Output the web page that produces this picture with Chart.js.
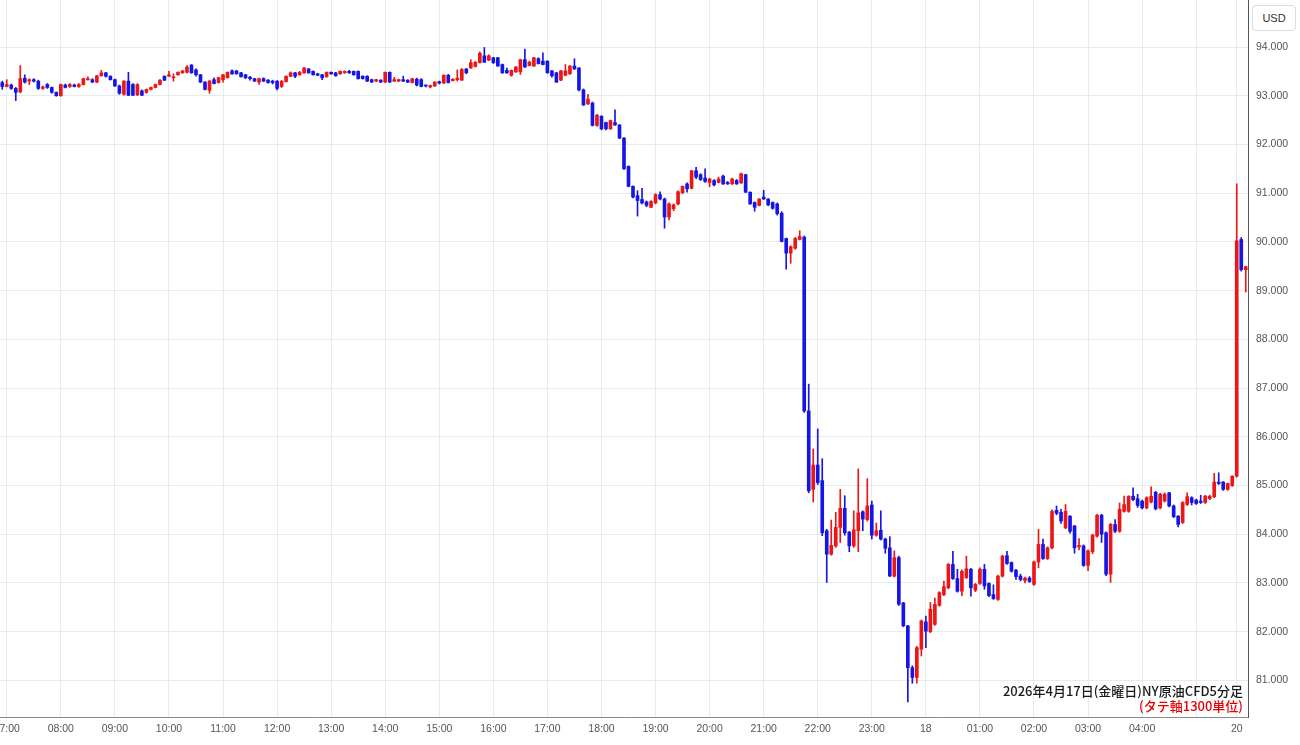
<!DOCTYPE html>
<html lang="ja">
<head>
<meta charset="utf-8">
<title>NY原油CFD 5分足</title>
<script src="https://cdn.jsdelivr.net/npm/chart.js@4.4.1/dist/chart.umd.min.js"></script>
<style>
  body { margin: 0; background: #fff; }
  #wrap { position: relative; width: 1300px; height: 745px; }
  .unit {
    position: absolute; left: 1252px; top: 5px; width: 42px; height: 24px;
    border: 1px solid #dcdcdc; border-radius: 4px; background: #fff;
    font: 11px 'Liberation Sans', sans-serif; color: #333;
    line-height: 24px; text-align: center;
  }
  .note {
    position: absolute; right: 57px; top: 683px; text-align: right;
    font-family: 'Noto Sans CJK JP', sans-serif; font-size: 13px; font-weight: 500;
    line-height: 15px; color: #1a1a1a;
  }
  .note .red { color: #e60000; }
</style>
</head>
<body>
<div id="wrap">
  <canvas id="crude"></canvas>
  <div class="unit">USD</div>
  <div class="note">2026年4月17日(金曜日)NY原油CFD5分足<br><span class="red">(タテ軸1300単位)</span></div>
</div>
<script>
// sessions: Friday 17th from 06:55, Monday 20th from 07:00 (5 min bars)
const fridayStart = 6 * 60 + 55;
const fridayBars = 274;
const mondayStart = 7 * 60;
const mondayBars = 3;

// hour ticks shown on the time axis
const hourTicks = ['07:00', '08:00', '09:00', '10:00', '11:00', '12:00', '13:00', '14:00', '15:00',
  '16:00', '17:00', '18:00', '19:00', '20:00', '21:00', '22:00', '23:00', '00:00', '01:00',
  '02:00', '03:00', '04:00', '05:00', '20 07:00'];
const hourTickLabels = ['07:00', '08:00', '09:00', '10:00', '11:00', '12:00', '13:00', '14:00', '15:00',
  '16:00', '17:00', '18:00', '19:00', '20:00', '21:00', '22:00', '23:00', '18', '01:00',
  '02:00', '03:00', '04:00', '', '20'];
const priceTicks = [81, 82, 83, 84, 85, 86, 87, 88, 89, 90, 91, 92, 93, 94];

const opens = [
  93.27, 93.19, 93.22, 93.15, 93.08, 93.36, 93.30, 93.33, 93.30, 93.15,
  93.23, 93.17, 93.07, 93.00, 93.22, 93.19, 93.22, 93.19, 93.23, 93.33,
  93.33, 93.28, 93.41, 93.47, 93.40, 93.33, 93.20, 93.03, 93.30, 93.23,
  93.02, 93.10, 93.07, 93.13, 93.17, 93.23, 93.40, 93.40, 93.37, 93.43,
  93.47, 93.48, 93.63, 93.53, 93.43, 93.28, 93.11, 93.33, 93.27, 93.33,
  93.37, 93.51, 93.51, 93.47, 93.43, 93.38, 93.35, 93.28, 93.35, 93.32,
  93.30, 93.30, 93.19, 93.29, 93.40, 93.47, 93.43, 93.47, 93.55, 93.50,
  93.45, 93.43, 93.39, 93.48, 93.47, 93.45, 93.47, 93.50, 93.50, 93.50,
  93.40, 93.40, 93.33, 93.30, 93.32, 93.28, 93.48, 93.30, 93.30, 93.33,
  93.32, 93.27, 93.34, 93.33, 93.21, 93.18, 93.20, 93.29, 93.26, 93.42,
  93.31, 93.33, 93.32, 93.55, 93.57, 93.60, 93.68, 93.82, 93.73, 93.78,
  93.78, 93.64, 93.52, 93.42, 93.49, 93.49, 93.74, 93.62, 93.61, 93.76,
  93.71, 93.71, 93.51, 93.47, 93.32, 93.42, 93.45, 93.61,
  93.57, 93.12,
  92.83, 92.85, 92.39, 92.58, 92.45, 92.32, 92.45, 92.40, 92.13, 91.55,
  91.14, 90.95, 90.87, 90.82, 90.71, 90.80, 90.97, 90.88, 90.51, 90.68,
  90.78, 91.01, 91.19, 91.10, 91.46, 91.38, 91.31, 91.22, 91.26, 91.22,
  91.35, 91.22, 91.19, 91.26, 91.21, 91.38, 91.02, 90.81, 90.75, 90.92,
  90.88, 90.81, 90.78, 90.59, 90.07, 89.77, 89.87, 90.05, 90.10, 86.53,
  84.92, 85.42, 85.10, 84.07, 83.59, 83.76, 84.14, 84.53, 84.04, 83.76,
  84.07, 84.46, 84.30, 84.60, 83.98, 84.08, 83.90, 83.72, 83.14, 83.52,
  82.59, 82.12, 81.26, 81.06, 81.64, 82.20, 82.00, 82.15, 82.54, 82.76,
  82.90, 83.38, 83.09, 82.83, 83.11, 83.28, 82.85, 82.99, 83.28, 82.99,
  82.76, 82.66, 83.14, 83.56, 83.42, 83.26, 83.14, 83.05, 83.10, 82.97,
  83.43, 83.79, 83.50, 83.72, 84.49, 84.45, 84.13, 84.37, 84.17, 83.74,
  83.76, 83.36, 83.64, 83.96, 84.39, 84.03, 83.18, 84.20, 84.06, 84.47,
  84.47, 84.78, 84.73, 84.68, 84.54, 84.66, 84.86, 84.54, 84.68, 84.85,
  84.58, 84.37, 84.24, 84.61, 84.75, 84.70, 84.68, 84.65, 84.73, 84.77,
  85.07, 85.07, 84.92, 85.00, 85.19, 90.05, 89.43
];
const highs = [
  93.30, 93.33, 93.24, 93.17, 93.62, 93.43, 93.35, 93.35, 93.32, 93.20,
  93.25, 93.18, 93.08, 93.24, 93.24, 93.25, 93.24, 93.25, 93.36, 93.39,
  93.35, 93.42, 93.52, 93.48, 93.41, 93.34, 93.22, 93.31, 93.48, 93.25,
  93.25, 93.12, 93.14, 93.18, 93.24, 93.33, 93.41, 93.50, 93.45, 93.49,
  93.52, 93.62, 93.64, 93.55, 93.44, 93.29, 93.32, 93.37, 93.38, 93.44,
  93.49, 93.53, 93.52, 93.48, 93.44, 93.40, 93.36, 93.36, 93.37, 93.33,
  93.32, 93.31, 93.31, 93.41, 93.49, 93.48, 93.50, 93.58, 93.56, 93.51,
  93.46, 93.44, 93.49, 93.49, 93.48, 93.51, 93.51, 93.52, 93.51, 93.51,
  93.41, 93.41, 93.34, 93.34, 93.33, 93.49, 93.49, 93.38, 93.34, 93.40,
  93.33, 93.36, 93.36, 93.35, 93.22, 93.22, 93.29, 93.30, 93.43, 93.44,
  93.35, 93.53, 93.56, 93.56, 93.74, 93.70, 93.90, 93.99, 93.84, 93.79,
  93.79, 93.65, 93.57, 93.53, 93.60, 93.75, 93.96, 93.71, 93.79, 93.78,
  93.88, 93.72, 93.52, 93.48, 93.52, 93.64, 93.62, 93.76,
  93.58, 93.14,
  93.03, 92.87, 92.62, 92.59, 92.46, 92.50, 92.71, 92.41, 92.14, 91.56,
  91.15, 91.05, 91.10, 90.84, 90.85, 90.99, 91.03, 90.90, 90.80, 90.78,
  91.05, 91.15, 91.21, 91.47, 91.53, 91.40, 91.50, 91.31, 91.28, 91.33,
  91.37, 91.24, 91.31, 91.28, 91.41, 91.39, 91.03, 90.82, 90.89, 91.06,
  90.89, 90.82, 90.80, 90.62, 90.08, 89.92, 90.09, 90.23, 90.12, 87.08,
  85.75, 86.16, 85.55, 84.10, 84.29, 84.45, 84.92, 84.79, 84.06, 84.48,
  85.34, 84.48, 85.14, 84.68, 84.23, 84.48, 83.92, 83.95, 83.66, 83.55,
  82.60, 82.13, 81.30, 81.70, 82.24, 82.32, 82.60, 82.69, 82.82, 83.04,
  83.40, 83.65, 83.28, 83.27, 83.55, 83.30, 82.99, 83.31, 83.38, 83.00,
  82.96, 83.16, 83.57, 83.65, 83.43, 83.28, 83.18, 83.12, 83.13, 83.45,
  84.10, 83.90, 83.74, 84.50, 84.58, 84.51, 84.61, 84.38, 84.18, 83.91,
  83.78, 83.68, 84.00, 84.41, 84.41, 84.05, 84.22, 84.30, 84.64, 84.78,
  84.79, 84.95, 84.82, 84.70, 84.77, 84.97, 84.88, 84.84, 84.85, 84.86,
  84.60, 84.38, 84.67, 84.85, 84.77, 84.72, 84.80, 84.80, 84.80, 85.25,
  85.26, 85.08, 85.05, 85.20, 91.19, 90.09, 89.50
];
const lows = [
  93.13, 93.18, 93.13, 92.90, 93.06, 93.26, 93.23, 93.28, 93.13, 93.13,
  93.15, 93.05, 92.99, 92.99, 93.16, 93.17, 93.18, 93.17, 93.22, 93.32,
  93.27, 93.27, 93.40, 93.38, 93.32, 93.19, 93.03, 93.01, 93.00, 93.00,
  93.00, 93.00, 93.05, 93.12, 93.16, 93.22, 93.31, 93.39, 93.30, 93.42,
  93.46, 93.47, 93.46, 93.40, 93.27, 93.12, 93.05, 93.24, 93.26, 93.28,
  93.36, 93.44, 93.44, 93.38, 93.35, 93.32, 93.29, 93.23, 93.29, 93.26,
  93.24, 93.12, 93.17, 93.28, 93.39, 93.37, 93.42, 93.46, 93.46, 93.42,
  93.41, 93.33, 93.38, 93.44, 93.40, 93.44, 93.46, 93.46, 93.42, 93.34,
  93.34, 93.29, 93.27, 93.29, 93.27, 93.27, 93.27, 93.29, 93.29, 93.29,
  93.27, 93.26, 93.20, 93.18, 93.18, 93.16, 93.19, 93.24, 93.25, 93.26,
  93.30, 93.30, 93.31, 93.45, 93.56, 93.59, 93.67, 93.68, 93.72, 93.66,
  93.60, 93.46, 93.46, 93.40, 93.48, 93.44, 93.58, 93.61, 93.60, 93.65,
  93.63, 93.46, 93.38, 93.27, 93.31, 93.41, 93.44, 93.54,
  93.10, 92.80,
  92.82, 92.38, 92.37, 92.30, 92.30, 92.31, 92.39, 92.12, 91.49, 91.13,
  90.90, 90.53, 90.78, 90.72, 90.70, 90.78, 90.86, 90.28, 90.45, 90.64,
  90.76, 90.99, 91.02, 91.09, 91.30, 91.26, 91.22, 91.13, 91.15, 91.21,
  91.18, 91.18, 91.18, 91.18, 91.20, 91.01, 90.77, 90.63, 90.74, 90.87,
  90.74, 90.67, 90.55, 90.00, 89.44, 89.56, 89.85, 90.04, 86.50, 84.85,
  84.66, 85.02, 83.97, 83.01, 83.57, 83.73, 83.83, 83.98, 83.64, 83.73,
  83.64, 84.07, 84.27, 83.90, 83.96, 83.88, 83.61, 83.13, 83.12, 82.54,
  82.10, 80.56, 80.94, 80.94, 81.50, 81.67, 81.98, 82.13, 82.52, 82.74,
  82.88, 83.07, 82.81, 82.74, 83.09, 82.73, 82.82, 82.97, 82.87, 82.72,
  82.66, 82.64, 83.12, 83.38, 83.22, 83.07, 83.04, 83.00, 83.01, 82.95,
  83.31, 83.48, 83.48, 83.70, 84.40, 84.22, 84.11, 84.02, 83.61, 83.68,
  83.34, 83.25, 83.60, 83.94, 83.83, 83.15, 83.01, 84.03, 84.04, 84.45,
  84.45, 84.69, 84.55, 84.52, 84.52, 84.64, 84.50, 84.52, 84.66, 84.56,
  84.34, 84.15, 84.22, 84.59, 84.60, 84.61, 84.63, 84.63, 84.71, 84.75,
  85.02, 84.90, 84.90, 84.98, 85.17, 89.40, 88.97
];
const closes = [
  93.19, 93.23, 93.15, 93.07, 93.35, 93.28, 93.33, 93.30, 93.15, 93.18,
  93.17, 93.07, 93.00, 93.23, 93.17, 93.23, 93.19, 93.23, 93.35, 93.35,
  93.28, 93.41, 93.47, 93.40, 93.33, 93.20, 93.05, 93.30, 93.01, 93.01,
  93.23, 93.01, 93.13, 93.17, 93.23, 93.32, 93.32, 93.43, 93.39, 93.48,
  93.51, 93.59, 93.47, 93.43, 93.28, 93.13, 93.30, 93.25, 93.37, 93.43,
  93.48, 93.45, 93.45, 93.39, 93.37, 93.35, 93.30, 93.35, 93.30, 93.27,
  93.27, 93.15, 93.30, 93.40, 93.47, 93.40, 93.48, 93.57, 93.47, 93.43,
  93.42, 93.37, 93.48, 93.45, 93.41, 93.50, 93.50, 93.47, 93.43, 93.35,
  93.35, 93.30, 93.28, 93.33, 93.28, 93.48, 93.28, 93.33, 93.33, 93.30,
  93.28, 93.35, 93.22, 93.19, 93.20, 93.21, 93.28, 93.26, 93.42, 93.27,
  93.34, 93.36, 93.54, 93.47, 93.68, 93.69, 93.87, 93.69, 93.82, 93.68,
  93.61, 93.47, 93.47, 93.52, 93.59, 93.74, 93.59, 93.69, 93.78, 93.66,
  93.64, 93.47, 93.41, 93.28, 93.51, 93.51, 93.61, 93.55,
  93.12, 92.81,
  92.93, 92.39, 92.60, 92.32, 92.32, 92.49, 92.40, 92.13, 91.50, 91.14,
  90.92, 90.85, 90.80, 90.75, 90.83, 90.97, 90.88, 90.51, 90.78, 90.76,
  91.03, 91.14, 91.09, 91.46, 91.33, 91.28, 91.24, 91.29, 91.17, 91.29,
  91.19, 91.19, 91.29, 91.19, 91.40, 91.02, 90.78, 90.71, 90.88, 90.88,
  90.76, 90.69, 90.58, 90.01, 89.77, 89.90, 90.07, 90.11, 86.53, 84.89,
  85.42, 85.06, 84.03, 83.59, 83.77, 84.14, 84.53, 84.03, 83.76, 84.09,
  84.44, 84.31, 84.58, 83.98, 84.07, 83.90, 83.71, 83.14, 83.52, 82.56,
  82.12, 81.26, 81.06, 81.67, 82.22, 82.01, 82.46, 82.56, 82.80, 82.92,
  83.38, 83.09, 82.83, 83.24, 83.29, 82.90, 82.97, 83.28, 82.94, 82.74,
  82.68, 83.14, 83.55, 83.40, 83.24, 83.13, 83.07, 83.10, 83.03, 83.43,
  83.79, 83.50, 83.72, 84.47, 84.43, 84.27, 84.47, 84.06, 83.72, 83.77,
  83.36, 83.66, 83.98, 84.39, 84.00, 83.18, 84.20, 84.06, 84.51, 84.61,
  84.78, 84.71, 84.59, 84.54, 84.75, 84.78, 84.52, 84.82, 84.82, 84.58,
  84.36, 84.20, 84.65, 84.77, 84.65, 84.63, 84.65, 84.78, 84.78, 85.07,
  85.04, 84.92, 85.04, 85.19, 90.02, 89.43, 89.49
];

const upColor = 'rgb(236, 22, 22)';
const downColor = 'rgb(22, 22, 228)';
const gridColor = '#e4ecf1';

function hhmm(m) {
  m = m % 1440;
  return String(Math.floor(m / 60)).padStart(2, '0') + ':' + String(m % 60).padStart(2, '0');
}

// category labels, one per 5 minute bar
const times = [];
for (let i = 0; i < fridayBars; i++) times.push(hhmm(fridayStart + i * 5));
for (let i = 0; i < mondayBars; i++) times.push('20 ' + hhmm(mondayStart + i * 5));

const colors = closes.map((c, i) => (c >= opens[i] ? upColor : downColor));

const ctx = document.getElementById('crude').getContext('2d');

new Chart(ctx, {
  type: 'bar',
  data: {
    labels: times,
    datasets: [
      {
        label: 'body',
        data: closes.map((c, i) => [Math.min(opens[i], c), Math.max(opens[i], c)]),
        backgroundColor: colors,
        barThickness: 3,
        minBarLength: 1,
        grouped: false,
        order: 1,
      },
      {
        label: 'wick',
        data: lows.map((l, i) => [l, highs[i]]),
        backgroundColor: colors,
        barThickness: 1,
        grouped: false,
        order: 2,
      },
    ],
  },
  options: {
    responsive: true,
    maintainAspectRatio: false,
    animation: false,
    layout: { padding: 0 },
    plugins: {
      legend: { display: false },
      tooltip: { enabled: false },
    },
    scales: {
      x: {
        offset: true,
        grid: {
          offset: false,
          drawTicks: false,
          color: (c) => (c.tick && c.tick.label != null ? gridColor : 'rgba(0,0,0,0)'),
        },
        border: { display: true, color: '#8a8a8a' },
        ticks: {
          autoSkip: false,
          maxRotation: 0,
          minRotation: 0,
          padding: 6,
          color: '#555',
          font: { family: 'Liberation Sans', size: 10.5 },
          callback: function (value) {
            const k = hourTicks.indexOf(this.getLabelForValue(value));
            return k < 0 ? null : hourTickLabels[k];
          },
        },
        afterFit: (s) => {
          s.height = 28;
          s.paddingLeft = 0;
          s.paddingRight = 0;
        },
      },
      y: {
        position: 'right',
        min: 80.248,
        max: 94.965,
        grid: { color: gridColor, drawTicks: false },
        border: { display: true, color: '#555' },
        afterBuildTicks: (axis) => {
          axis.ticks = priceTicks.map((v) => ({ value: v }));
        },
        ticks: {
          padding: 8,
          color: '#555',
          font: { family: 'Liberation Sans', size: 10.5 },
          callback: (v) => v.toFixed(3),
        },
        afterFit: (s) => {
          s.width = 52;
          s.paddingTop = 0;
          s.paddingBottom = 0;
        },
      },
    },
  },
});
</script>
</body>
</html>
